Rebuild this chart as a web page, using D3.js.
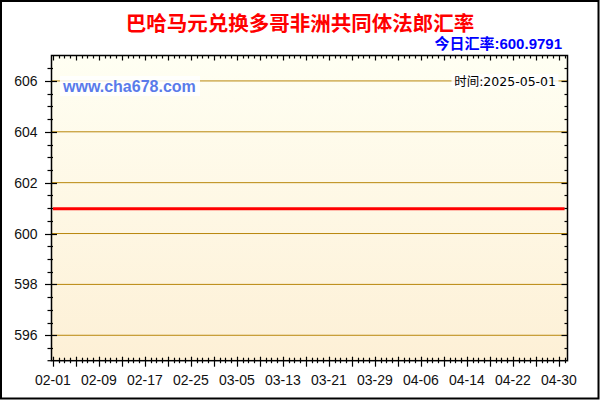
<!DOCTYPE html>
<html>
<head>
<meta charset="utf-8">
<script src="https://cdn.jsdelivr.net/npm/d3@7"></script>
<style>
  html, body { margin: 0; padding: 0; background: #fff; }
  svg { display: block; }
  .tick-label { font-family: "Liberation Sans", Arial, sans-serif; font-size: 14px; fill: #111; }
</style>
</head>
<body>
<div id="chart"></div>
<script>
// Bahamian dollar -> XOF daily rate, Feb..May 2025 (flat on this scale).
const rateDates = ['2025-02-01', '2025-02-09', '2025-02-17', '2025-02-25', '2025-03-05', '2025-03-13',
  '2025-03-21', '2025-03-29', '2025-04-06', '2025-04-14', '2025-04-22', '2025-04-30', '2025-05-01'];
const rateValues = [600.9791, 600.9791, 600.9791, 600.9791, 600.9791, 600.9791,
  600.9791, 600.9791, 600.9791, 600.9791, 600.9791, 600.9791, 600.9791];

const xTickLabels = ['02-01', '02-09', '02-17', '02-25', '03-05', '03-13', '03-21', '03-29', '04-06', '04-14', '04-22', '04-30'];
const yTickValues = [596, 598, 600, 602, 604, 606];

const titleText = '巴哈马元兑换多哥非洲共同体法郎汇率';
const todayRate = '今日汇率:600.9791';
const timeText = '时间:2025-05-01';
const siteText = 'www.cha678.com';

const W = 600, H = 400;
const plot = { left: 51.5, right: 567.5, top: 55.5, bottom: 360.7 };

const parse = d3.timeParse('%Y-%m-%d');
const series = rateDates.map((d, i) => ({ date: parse(d), value: rateValues[i] }));

const x = d3.scaleTime()
  .domain([new Date(2025, 0, 31, 18), new Date(2025, 4, 1, 12)])
  .range([plot.left, plot.right]);
const y = d3.scaleLinear().domain([595, 607]).range([plot.bottom, plot.top]);

const svg = d3.select('#chart').append('svg').attr('width', W).attr('height', H);

const grad = svg.append('defs').append('linearGradient')
  .attr('id', 'bg').attr('x1', 0).attr('y1', 0).attr('x2', 0).attr('y2', 1);
grad.append('stop').attr('offset', '0%').attr('stop-color', '#FFFFF3');
grad.append('stop').attr('offset', '100%').attr('stop-color', '#FDF0D6');

svg.append('rect')
  .attr('x', plot.left).attr('y', plot.top)
  .attr('width', plot.right - plot.left).attr('height', plot.bottom - plot.top)
  .attr('fill', 'url(#bg)');

// gridlines at labelled y values
svg.append('g').selectAll('line').data(yTickValues).join('line')
  .attr('x1', plot.left).attr('x2', plot.right)
  .attr('y1', (d) => y(d)).attr('y2', (d) => y(d))
  .attr('stroke', '#B8860B').attr('stroke-width', 1);

// rate line
const line = d3.line().x((d) => x(d.date)).y((d) => y(d.value));
svg.append('path').datum(series)
  .attr('d', line)
  .attr('fill', 'none').attr('stroke', '#FF0000').attr('stroke-width', 3);

// frame of plot
svg.append('rect')
  .attr('x', plot.left).attr('y', plot.top)
  .attr('width', plot.right - plot.left).attr('height', plot.bottom - plot.top)
  .attr('fill', 'none').attr('stroke', '#000').attr('stroke-width', 1.5);

// bottom/top ticks: one per day, long every 4 days
const days = d3.timeDay.range(new Date(2025, 1, 1), new Date(2025, 4, 2));
const ticks = svg.append('g').attr('stroke', '#000').attr('stroke-width', 1.2);
days.forEach((d, i) => {
  const major = i % 4 === 0;
  const px = Math.round(x(d)) + 0.5;
  ticks.append('line').attr('x1', px).attr('x2', px)
    .attr('y1', plot.bottom - (major ? 4 : 3)).attr('y2', plot.bottom + (major ? 6 : 2.5));
  ticks.append('line').attr('x1', px).attr('x2', px)
    .attr('y1', plot.top).attr('y2', plot.top + (major ? 5 : 3));
});

// left/right ticks: every 0.5, long every 2
d3.range(595.5, 607, 0.5).forEach((v) => {
  const major = yTickValues.includes(v);
  const py = Math.round(y(v)) + 0.5;
  ticks.append('line').attr('y1', py).attr('y2', py)
    .attr('x1', plot.left - (major ? 6.5 : 4)).attr('x2', plot.left + (major ? 5.5 : 1.5));
  ticks.append('line').attr('y1', py).attr('y2', py)
    .attr('x1', plot.right - (major ? 6 : 3)).attr('x2', plot.right);
});
ticks.append('line').attr('x1', plot.left - 4).attr('x2', plot.left)
  .attr('y1', plot.bottom).attr('y2', plot.bottom);

// tick labels
svg.append('g').selectAll('text').data(yTickValues).join('text')
  .attr('class', 'tick-label')
  .attr('x', 37.5).attr('y', (d) => y(d) + 5)
  .attr('text-anchor', 'end')
  .text((d) => d);

svg.append('g').selectAll('text').data(xTickLabels).join('text')
  .attr('class', 'tick-label')
  .attr('x', (d) => x(parse('2025-' + d)))
  .attr('y', 385)
  .attr('text-anchor', 'middle')
  .text((d) => d);

// title and annotations
svg.append('text')
  .attr('x', 300).attr('y', 31)
  .attr('text-anchor', 'middle')
  .attr('font-family', '"Noto Sans CJK SC", sans-serif')
  .attr('font-size', 20.5).attr('font-weight', 'bold')
  .attr('fill', '#FF0000')
  .text(titleText);

svg.append('text')
  .attr('x', 562).attr('y', 49)
  .attr('text-anchor', 'end')
  .attr('font-family', '"Liberation Sans", "Noto Sans CJK SC", sans-serif')
  .attr('font-size', 15).attr('font-weight', 'bold')
  .attr('fill', '#0000FF')
  .text(todayRate);

svg.append('rect').attr('x', 60).attr('y', 76).attr('width', 140).attr('height', 20).attr('fill', '#FFFFFF').attr('opacity', 0.85);
svg.append('text')
  .attr('x', 63).attr('y', 91.5)
  .attr('font-family', '"Liberation Sans", Arial, sans-serif')
  .attr('font-size', 16).attr('font-weight', 'bold')
  .attr('fill', '#5A7BEA')
  .text(siteText);

svg.append('rect').attr('x', 451.5).attr('y', 74).attr('width', 107).attr('height', 14).attr('fill', '#FFFFFF').attr('opacity', 0.85);
svg.append('text')
  .attr('x', 556).attr('y', 85.5)
  .attr('text-anchor', 'end')
  .attr('font-family', '"DejaVu Sans", "Noto Sans CJK SC", sans-serif')
  .attr('font-size', 12.5)
  .attr('fill', '#000')
  .text(timeText);

// outer border
svg.append('rect')
  .attr('x', 1).attr('y', 1).attr('width', 597.5).attr('height', 397.5)
  .attr('fill', 'none').attr('stroke', '#000').attr('stroke-width', 2);
</script>
</body>
</html>
